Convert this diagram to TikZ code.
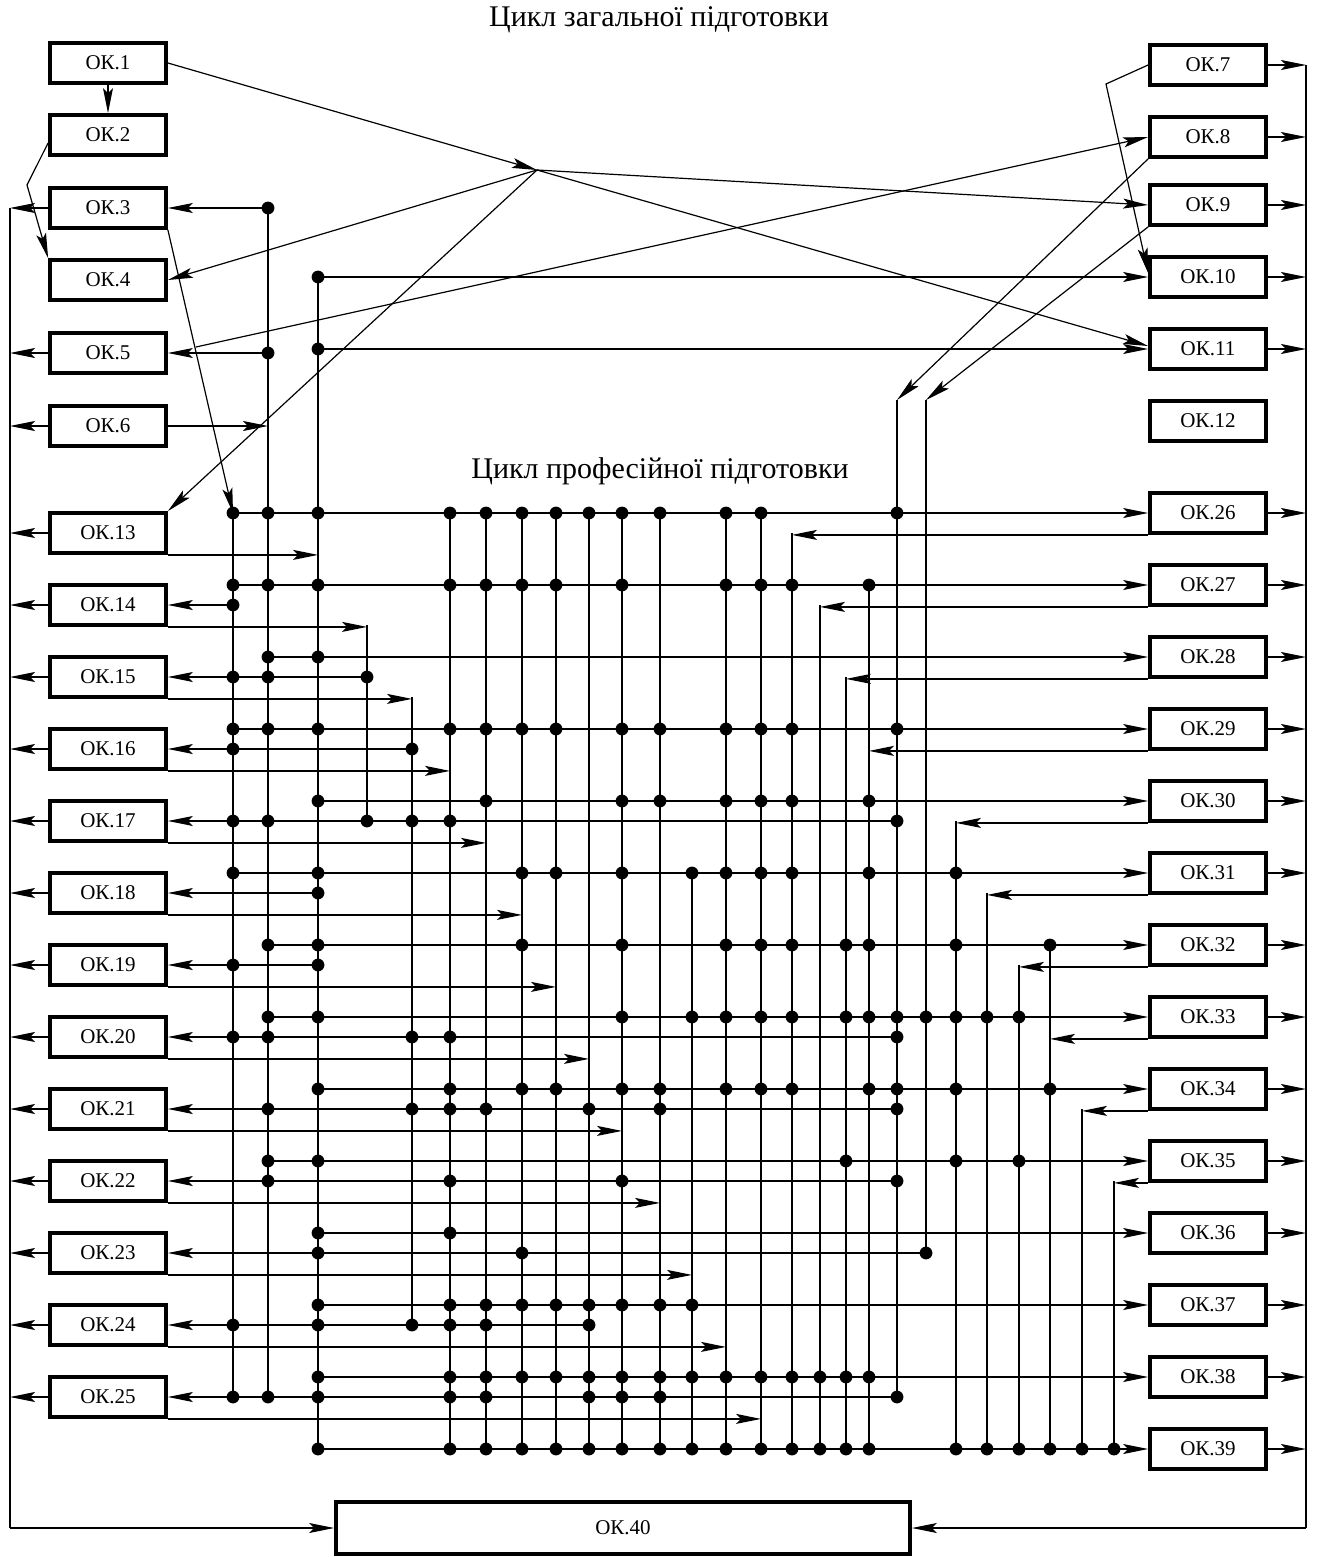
\documentclass[tikz,border=0pt]{standalone}
\usepackage{fontspec}
\setmainfont{Liberation Serif}
\usetikzlibrary{arrows.meta}
\begin{document}
\begin{tikzpicture}[x=0.5pt,y=-0.5pt,
  ln/.style={line width=0.6pt},
  arr/.style={ln,-{Stealth[length=12.5pt,width=5pt,inset=2.5pt]}},
  box/.style={draw,line width=1.9pt,minimum width=58pt,minimum height=20pt,inner sep=0pt,font=\fontsize{10.5}{12}\selectfont},
  ttl/.style={font=\fontsize{15}{17}\selectfont}]
\useasboundingbox (0,0) rectangle (1318,1557);

% titles
\node[ttl] (t1) at (659,20) {Цикл загальної підготовки};
\node[ttl] (t2) at (660,471) {Цикл професійної підготовки};

% left boxes
\foreach \n/\y in {1/63,2/135,3/208,4/280,5/353,6/426}
  \node[box] (ok\n) at (108,\y) {ОК.\n};
\foreach \n [evaluate=\n as \y using {533+72*(\n-13)}] in {13,...,25}
  \node[box] (ok\n) at (108,\y) {ОК.\n};
% right boxes
\foreach \n/\y in {7/65,8/137,9/205,10/277,11/349,12/421}
  \node[box] (ok\n) at (1208,\y) {ОК.\n};
\foreach \n [evaluate=\n as \y using {513+72*(\n-26)}] in {26,...,39}
  \node[box] (ok\n) at (1208,\y) {ОК.\n};
% bottom box
\node[box,minimum width=287pt,minimum height=26pt] (ok40) at (623,1528) {ОК.40};

% rails
\coordinate (lt) at (10,208);
\coordinate (lb) at (10,1528);
\coordinate (rt) at (1306,65);
\coordinate (rb) at (1306,1528);
\draw[ln] (lt) -- (lb);
\draw[arr] (lb) -- (ok40.west);
\draw[ln] (rt) -- (rb);
\draw[arr] (rb) -- (ok40.east);
\foreach \n in {3,5,6,13,14,...,25}
  \draw[arr] (ok\n.west) -- (10,0 |- ok\n.west);
\foreach \n in {7,8,9,10,11,26,27,...,39}
  \draw[arr] (ok\n.east) -- (1306,0 |- ok\n.east);

% upper connections
\coordinate (hub) at (537,170);
\coordinate (b24) at (27,185);
\coordinate (b710) at (1106,84);
\coordinate (s58) at (196,347);
\draw[arr] (ok1.south) -- (ok2.north);
\draw[arr] ([yshift=-4pt]ok2.west) -- (b24) -- (ok4.north west);
\draw[arr] (ok1.east) -- (hub);
\draw[arr] (hub) -- (ok9.west);
\draw[arr] (hub) -- ([yshift=1.5pt]ok11.west);
\draw[arr] (hub) -- (ok4.east);
\draw[arr] (hub) -- (ok13.north east);
\draw[arr] (ok3.south east) -- (233,513);
\draw[arr] (s58) -- (ok8.west);
\draw[arr] (ok6.east) -- (268,426);
\draw[arr] (ok7.west) -- (b710) -- ([yshift=2pt]ok10.west);
\draw[arr] (ok8.south west) -- (897,400);
\draw[arr] (ok9.south west) -- (926,400);
\draw[arr] (318,277) -- (ok10.west);
\draw[arr] (318,349) -- (ok11.west);
\draw[arr] (268,208) -- (ok3.east);
\draw[arr] (268,353) -- (ok5.east);

% vertical columns
\foreach \x/\a/\b in {233/513/1397,268/208/1397,318/277/1449,367/625/821,412/697/1325,
  450/513/1449,486/513/1449,522/513/1449,556/513/1449,589/513/1449,622/513/1449,
  660/513/1449,692/873/1449,726/513/1449,761/513/1449,792/533/1449,820/605/1449,
  846/677/1449,869/585/1449,897/400/1397,926/400/1253,956/821/1449,987/893/1449,
  1019/965/1449,1050/945/1449,1082/1109/1449,1114/1181/1449}
  \draw[ln] (\x,\a) -- (\x,\b);

% inputs to right boxes
\foreach \n/\s in {26/233,27/233,28/268,29/233,30/318,31/233,32/268,33/268,34/318,
  35/268,36/318,37/318,38/318,39/318}
  \draw[arr] (\s,0 |- ok\n.west) -- (ok\n.west);
% inputs to left boxes
\foreach \n/\s in {14/233,15/367,16/412,17/897,18/318,19/318,20/897,21/897,22/897,
  23/926,24/589,25/897}
  \draw[arr] (\s,0 |- ok\n.east) -- (ok\n.east);
% outputs of left boxes
\foreach \n/\x in {13/318,14/367,15/412,16/450,17/486,18/522,19/556,20/589,21/622,
  22/660,23/692,24/726,25/761}
  \draw[arr] (ok\n.south east) -- (\x,0 |- ok\n.south east);
% outputs of right boxes
\foreach \n/\x in {26/792,27/820,28/846,29/869,30/956,31/987,32/1019,33/1050,
  34/1082,35/1114}
  \draw[arr] (ok\n.south west) -- (\x,0 |- ok\n.south west);

% junction dots
\foreach \y/\xs in {208/{268},277/{318},349/{318},353/{268},
  513/{233,268,318,450,486,522,556,589,622,660,726,761,897},
  585/{233,268,318,450,486,522,556,622,726,761,792,869},
  605/{233},
  657/{268,318},
  677/{233,268,367},
  729/{233,268,318,450,486,522,556,622,660,726,761,792,897},
  749/{233,412},
  801/{318,486,622,660,726,761,792,869},
  821/{233,268,367,412,450,897},
  873/{233,318,522,556,622,692,726,761,792,869,956},
  893/{318},
  945/{268,318,522,622,726,761,792,846,869,956,1050},
  965/{233,318},
  1017/{268,318,622,692,726,761,792,846,869,897,926,956,987,1019},
  1037/{233,268,412,450,897},
  1089/{318,450,522,556,622,660,726,761,792,869,897,956,1050},
  1109/{268,412,450,486,589,660,897},
  1161/{268,318,846,956,1019},
  1181/{268,450,622,897},
  1233/{318,450},
  1253/{318,522,926},
  1305/{318,450,486,522,556,589,622,660,692},
  1325/{233,318,412,450,486,589},
  1377/{318,450,486,522,556,589,622,660,692,726,761,792,820,846,869},
  1397/{233,268,318,450,486,589,622,660,897},
  1449/{318,450,486,522,556,589,622,660,692,726,761,792,820,846,869,956,987,1019,1050,1082,1114}}
  \foreach \x in \xs
    \fill (\x,\y) circle[radius=3.2pt];
\end{tikzpicture}
\end{document}
